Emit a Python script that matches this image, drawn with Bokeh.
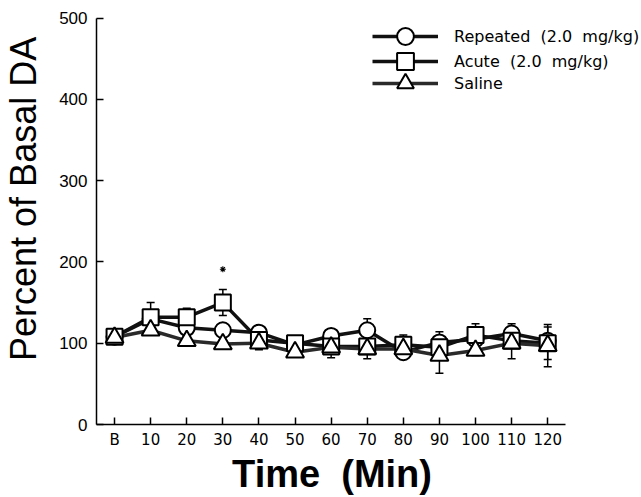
import math
from bokeh.plotting import figure
from bokeh.models import (FixedTicker, Whisker, ColumnDataSource, Legend, LegendItem,
                          TeeHead, Range1d)
from bokeh.embed import file_html
from bokeh.resources import INLINE

# ---- data ----
x_labels = ["B", "10", "20", "30", "40", "50", "60", "70", "80", "90", "100", "110", "120"]
x_pos = list(range(len(x_labels)))

repeated = [108, 130, 119, 116, 113, 98, 109, 116, 89, 101, 105, 112, 103]
repeated_err = [3, 6, 6, 6, 4, 4, 5, 14, 4, 13, 5, 12, 8]

acute = [108, 132, 132, 150, 104, 100, 96, 96, 98, 95, 110, 103, 100]
acute_err = [3, 18, 11, 16, 9, 4, 4, 5, 12, 6, 14, 8, 20]

saline = [107, 116, 103, 99, 100, 89, 95, 93, 93, 85, 91, 100, 97]
saline_err = [3, 5, 6, 5, 8, 5, 13, 12, 6, 22, 6, 19, 26]

sig_index = [3]
sig_value = [191]

y_ticks = [0, 100, 200, 300, 400, 500]

FONT = "Liberation Sans"
WIDE = "DejaVu Sans"
NB = "\u00a0"

p = figure(width=641, height=497, output_backend="svg", toolbar_location=None,
           x_range=Range1d(-0.5, 14.598), y_range=Range1d(0, 521.8),
           min_border_left=94, min_border_right=0, min_border_top=0, min_border_bottom=67)
p.grid.visible = False
p.outline_line_color = None
p.background_fill_color = "white"

for ax in (p.xaxis[0], p.yaxis[0]):
    ax.axis_line_width = 1.5
    ax.axis_line_color = "black"
    ax.major_tick_in = 7
    ax.major_tick_out = 0
    ax.major_tick_line_width = 1.5
    ax.minor_tick_line_color = None
    ax.major_label_text_color = "black"
    ax.axis_label_text_font = FONT
    ax.axis_label_text_color = "black"

p.xaxis.bounds = (-0.5, 12.5)
p.xaxis.ticker = FixedTicker(ticks=x_pos)
p.xaxis.major_label_overrides = {i: lab for i, lab in zip(x_pos, x_labels)}
p.xaxis.major_label_text_font = WIDE
p.xaxis.major_label_text_font_size = "15px"
p.xaxis.major_label_standoff = 6
p.xaxis.axis_label = "Time" + NB + NB + "(Min)" + NB * 7
p.xaxis.axis_label_text_font_size = "38px"
p.xaxis.axis_label_text_font_style = "bold"
p.xaxis.axis_label_standoff = 1

p.yaxis.bounds = (0, 500)
p.yaxis.ticker = FixedTicker(ticks=y_ticks)
p.yaxis.major_label_text_font = FONT
p.yaxis.major_label_text_font_size = "17px"
p.yaxis.major_label_standoff = 9
p.yaxis.axis_label = NB * 2 + "\u2009" + "Percent of Basal DA"
p.yaxis.axis_label_text_font_size = "36px"
p.yaxis.axis_label_text_font_style = "normal"
p.yaxis.axis_label_standoff = 12

series = [
    ("Repeated" + NB + NB + "(2.0" + NB + NB + "mg/kg)", repeated, repeated_err, "circle", 16, "#111111"),
    ("Acute" + NB + NB + "(2.0" + NB + NB + "mg/kg)", acute, acute_err, "square", 16, "#111111"),
    ("Saline", saline, saline_err, "triangle", 18, "#2a2a2a"),
]

sources = []
for name, vals, errs, marker, size, col in series:
    src = ColumnDataSource(dict(
        x=x_pos, y=vals,
        upper=[v + e for v, e in zip(vals, errs)],
        lower=[v - e for v, e in zip(vals, errs)]))
    sources.append(src)
    w = Whisker(source=src, base="x", upper="upper", lower="lower", dimension="height",
                line_width=1.5, line_color="black", level="underlay",
                upper_head=TeeHead(size=8, line_width=1.5, line_color="black"),
                lower_head=TeeHead(size=8, line_width=1.5, line_color="black"))
    p.add_layout(w)

line_rs = []
for (name, vals, errs, marker, size, col), src in zip(series, sources):
    line_rs.append(p.line("x", "y", source=src, line_width=3.5, line_color=col))

items = []
for (name, vals, errs, marker, size, col), src, lr in zip(series, sources, line_rs):
    sr = p.scatter("x", "y", source=src, marker=marker, size=size,
                   fill_color="white", line_color="black", line_width=2)
    items.append(LegendItem(label=name, renderers=[lr, sr]))

p.scatter(x=sig_index, y=sig_value, marker="asterisk", size=6,
          line_color="black", line_width=1.1)

# one legend per row so rows can sit closer than the marker-driven glyph height
for item, ypos in zip(items, [367, 342, 320]):
    lg = Legend(items=[item], location=(276, ypos), glyph_width=66, glyph_height=42,
                label_height=42, spacing=0, padding=0, margin=0,
                border_line_color=None, background_fill_alpha=0,
                label_standoff=16, label_text_font_size="16px", label_text_font=WIDE,
                label_text_color="black")
    p.add_layout(lg)

open("out.html", "w").write(file_html(p, INLINE))
